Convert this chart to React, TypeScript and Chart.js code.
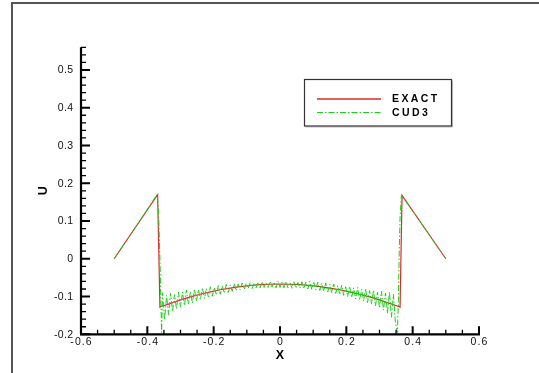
import React, { useEffect, useRef } from "react";
import { Chart, registerables } from "chart.js";

Chart.register(...registerables);

const X_MIN = -0.6;
const X_MAX = 0.6;
const Y_MIN = -0.2;
const Y_MAX = 0.56;

const xMajorTicks = [-0.6, -0.4, -0.2, 0, 0.2, 0.4, 0.6];
const xTickLabels = ["-0.6", "-0.4", "-0.2", "0", "0.2", "0.4", "0.6"];
const xMinorTicks = [-0.55, -0.5, -0.45, -0.35, -0.3, -0.25, -0.15, -0.1, -0.05, 0.05, 0.1, 0.15, 0.25, 0.3, 0.35, 0.45, 0.5, 0.55];

const yMajorTicks = [-0.2, -0.1, 0, 0.1, 0.2, 0.3, 0.4, 0.5];
const yTickLabels = ["-0.2", "-0.1", "0", "0.1", "0.2", "0.3", "0.4", "0.5"];
const yMinorTicks = [-0.18, -0.16, -0.14, -0.12, -0.08, -0.06, -0.04, -0.02, 0.02, 0.04, 0.06, 0.08, 0.12, 0.14, 0.16, 0.18, 0.22, 0.24, 0.26, 0.28, 0.32, 0.34, 0.36, 0.38, 0.42, 0.44, 0.46, 0.48, 0.52, 0.54, 0.56];

const xTitle = "X";
const yTitle = "U";
const seriesNames = ["EXACT", "CUD3"];

const exactX = [-0.5, -0.369, -0.362, -0.36, -0.33, -0.3, -0.27, -0.24, -0.21, -0.18, -0.15, -0.12, -0.09, -0.06, -0.03, 0, 0.03, 0.06, 0.09, 0.12, 0.15, 0.18, 0.21, 0.24, 0.27, 0.3, 0.33, 0.36, 0.362, 0.368, 0.5];
const exactU = [0, 0.17, -0.128, -0.127, -0.118, -0.109, -0.101, -0.094, -0.0875, -0.082, -0.0775, -0.0737, -0.0708, -0.0687, -0.0674, -0.067, -0.0674, -0.0687, -0.0708, -0.0737, -0.0775, -0.082, -0.0875, -0.094, -0.101, -0.109, -0.118, -0.127, -0.128, 0.168, 0];

const cud3X = [
  -0.5, -0.45, -0.4, -0.37, -0.366, -0.362, -0.359, -0.357,
  -0.354, -0.348, -0.342, -0.336, -0.33, -0.324, -0.318, -0.312, -0.306, -0.3,
  -0.294, -0.288, -0.282, -0.276, -0.27, -0.264, -0.258, -0.252, -0.246, -0.24,
  -0.234, -0.228, -0.222, -0.216, -0.21, -0.204, -0.198, -0.192, -0.186, -0.18,
  -0.174, -0.168, -0.162, -0.156, -0.15, -0.144, -0.138, -0.132, -0.126, -0.12,
  -0.114, -0.108, -0.102, -0.096, -0.09, -0.084, -0.078, -0.072, -0.066, -0.06,
  -0.054, -0.048, -0.042, -0.036, -0.03, -0.024, -0.018, -0.012, -0.006, 0,
  0.006, 0.012, 0.018, 0.024, 0.03, 0.036, 0.042, 0.048, 0.054, 0.06,
  0.066, 0.072, 0.078, 0.084, 0.09, 0.096, 0.102, 0.108, 0.114, 0.12,
  0.126, 0.132, 0.138, 0.144, 0.15, 0.156, 0.162, 0.168, 0.174, 0.18,
  0.186, 0.192, 0.198, 0.204, 0.21, 0.216, 0.222, 0.228, 0.234, 0.24,
  0.246, 0.252, 0.258, 0.264, 0.27, 0.276, 0.282, 0.288, 0.294, 0.3,
  0.306, 0.312, 0.318, 0.324, 0.33, 0.336, 0.342, 0.348,
  0.354, 0.357, 0.359, 0.362, 0.366, 0.4, 0.45, 0.5,
];
const cud3U = [
  0, 0.065, 0.131, 0.171, 0.12, 0.0, -0.12, -0.195,
  -0.09, -0.162, -0.097, -0.148, -0.091, -0.14, -0.095, -0.133, -0.089, -0.128,
  -0.088, -0.124, -0.083, -0.12, -0.086, -0.117, -0.08, -0.112, -0.082, -0.108,
  -0.077, -0.105, -0.079, -0.101, -0.074, -0.099, -0.076, -0.096, -0.071, -0.094,
  -0.072, -0.091, -0.068, -0.089, -0.07, -0.086, -0.066, -0.085, -0.067, -0.082,
  -0.064, -0.081, -0.066, -0.079, -0.063, -0.079, -0.064, -0.077, -0.062, -0.077,
  -0.061, -0.076, -0.063, -0.076, -0.06, -0.075, -0.062, -0.077, -0.06, -0.076,
  -0.062, -0.077, -0.06, -0.077, -0.063, -0.078, -0.061, -0.078, -0.063, -0.078,
  -0.061, -0.079, -0.062, -0.08, -0.06, -0.081, -0.063, -0.082, -0.062, -0.084,
  -0.065, -0.086, -0.064, -0.088, -0.068, -0.09, -0.067, -0.092, -0.071, -0.095,
  -0.07, -0.097, -0.074, -0.1, -0.073, -0.103, -0.077, -0.106, -0.076, -0.109,
  -0.081, -0.112, -0.079, -0.116, -0.084, -0.12, -0.083, -0.125, -0.088, -0.13,
  -0.086, -0.136, -0.091, -0.144, -0.088, -0.155, -0.094, -0.17,
  -0.195, -0.11, 0.0, 0.11, 0.168, 0.127, 0.064, 0,
];

const EXACT_COLOR = "#dc2a2a";
const CUD3_COLOR = "#18d218";
const CUD3_DASH = [6, 2, 1.5, 2];
const FONT = "'Liberation Sans', Arial, sans-serif";

function drawSpaced(ctx: CanvasRenderingContext2D, text: string, x: number, y: number, spacing: number, align: "left" | "center" | "right") {
  let total = 0;
  const widths = Array.from(text).map((c) => ctx.measureText(c).width);
  widths.forEach((w) => (total += w));
  total += spacing * (widths.length - 1);
  let start = x;
  if (align === "center") start = x - total / 2;
  if (align === "right") start = x - total;
  ctx.textAlign = "left";
  let cx = start;
  Array.from(text).forEach((c, i) => {
    ctx.fillText(c, cx, y);
    cx += widths[i] + spacing;
  });
}

const axesPlugin = {
  id: "tecplotAxes",
  afterDraw(chart: any) {
    const ctx: CanvasRenderingContext2D = chart.ctx;
    const xs = chart.scales.x;
    const ys = chart.scales.y;
    const left = xs.getPixelForValue(X_MIN);
    const right = xs.getPixelForValue(X_MAX);
    const bottom = ys.getPixelForValue(Y_MIN);
    const top = ys.getPixelForValue(Y_MAX);
    ctx.save();
    ctx.strokeStyle = "#000";
    ctx.lineCap = "butt";

    ctx.lineWidth = 2.2;
    ctx.beginPath();
    ctx.moveTo(left, top);
    ctx.lineTo(left, bottom);
    ctx.moveTo(left - 1, bottom);
    ctx.lineTo(right + 1, bottom);
    ctx.stroke();

    ctx.lineWidth = 2;
    ctx.beginPath();
    xMajorTicks.forEach((v) => {
      const px = xs.getPixelForValue(v);
      ctx.moveTo(px, bottom);
      ctx.lineTo(px, bottom - 8);
    });
    ctx.stroke();
    ctx.lineWidth = 1.3;
    ctx.beginPath();
    xMinorTicks.forEach((v) => {
      const px = xs.getPixelForValue(v);
      ctx.moveTo(px, bottom);
      ctx.lineTo(px, bottom - 4.5);
    });
    ctx.stroke();

    ctx.lineWidth = 2;
    ctx.beginPath();
    yMajorTicks.forEach((v) => {
      const py = ys.getPixelForValue(v);
      ctx.moveTo(left, py);
      ctx.lineTo(left + 9, py);
    });
    ctx.stroke();
    ctx.lineWidth = 1.3;
    ctx.beginPath();
    yMinorTicks.forEach((v) => {
      const py = ys.getPixelForValue(v);
      ctx.moveTo(left, py);
      ctx.lineTo(left + 5, py);
    });
    ctx.stroke();

    ctx.fillStyle = "#111";
    ctx.font = `10.5px ${FONT}`;
    ctx.textBaseline = "middle";
    xMajorTicks.forEach((v, i) => {
      drawSpaced(ctx, xTickLabels[i], xs.getPixelForValue(v), bottom + 8, 1.1, "center");
    });
    yMajorTicks.forEach((v, i) => {
      drawSpaced(ctx, yTickLabels[i], left - 8, ys.getPixelForValue(v) + 0.5, 0.3, "right");
    });

    ctx.fillStyle = "#000";
    ctx.font = `bold 12.5px ${FONT}`;
    ctx.textAlign = "center";
    ctx.fillText(xTitle, xs.getPixelForValue(0), bottom + 21);
    ctx.save();
    ctx.translate(44, ys.getPixelForValue(0.18));
    ctx.rotate(-Math.PI / 2);
    ctx.fillText(yTitle, 0, 0);
    ctx.restore();

    const lx = 304.5, ly = 79.5, lw = 147, lh = 46.5;
    ctx.fillStyle = "#fff";
    ctx.fillRect(lx, ly, lw, lh);
    ctx.strokeStyle = "#333";
    ctx.lineWidth = 1.2;
    ctx.strokeRect(lx, ly, lw, lh);
    ctx.strokeStyle = "rgba(0,0,0,0.25)";
    ctx.lineWidth = 1;
    ctx.beginPath();
    ctx.moveTo(lx + 1, ly + lh + 1);
    ctx.lineTo(lx + lw + 1, ly + lh + 1);
    ctx.lineTo(lx + lw + 1, ly + 1);
    ctx.stroke();

    const rows = [99, 112.5];
    const colors = [EXACT_COLOR, CUD3_COLOR];
    const dashes = [[], CUD3_DASH];
    rows.forEach((ry, i) => {
      ctx.strokeStyle = colors[i];
      ctx.lineWidth = i === 0 ? 1.4 : 1.2;
      ctx.setLineDash(dashes[i] as number[]);
      ctx.beginPath();
      ctx.moveTo(317, ry);
      ctx.lineTo(381, ry);
      ctx.stroke();
      ctx.setLineDash([]);
      ctx.fillStyle = "#000";
      ctx.font = `bold 10.5px ${FONT}`;
      ctx.textBaseline = "middle";
      drawSpaced(ctx, seriesNames[i], 392, ry + 0.5, 2.4, "left");
    });
    ctx.restore();
  },
};

export default function App() {
  const ref = useRef<HTMLCanvasElement | null>(null);

  useEffect(() => {
    document.body.style.margin = "0";
    const canvas = ref.current;
    if (!canvas) return;
    const chart = new Chart(canvas, {
      type: "scatter",
      data: {
        datasets: [
          {
            label: seriesNames[1],
            data: cud3X.map((x, i) => ({ x, y: cud3U[i] })),
            showLine: true,
            borderColor: CUD3_COLOR,
            borderWidth: 1,
            borderDash: CUD3_DASH,
            pointRadius: 0,
            fill: false,
            tension: 0,
          },
          {
            label: seriesNames[0],
            data: exactX.map((x, i) => ({ x, y: exactU[i] })),
            showLine: true,
            borderColor: EXACT_COLOR,
            borderWidth: 1.2,
            pointRadius: 0,
            fill: false,
            tension: 0,
          },
        ],
      },
      options: {
        animation: false,
        responsive: false,
        maintainAspectRatio: false,
        events: [],
        layout: { padding: { left: 81, right: 60, top: 47.3, bottom: 38.7 } },
        scales: {
          x: { type: "linear", min: X_MIN, max: X_MAX, display: false },
          y: { type: "linear", min: Y_MIN, max: Y_MAX, display: false },
        },
        plugins: { legend: { display: false }, tooltip: { enabled: false } },
      },
      plugins: [axesPlugin],
    } as any);
    return () => chart.destroy();
  }, []);

  return (
    <div style={{ position: "fixed", left: 0, top: 0, width: 539, height: 373, background: "#fff", overflow: "hidden" }}>
      <div
        style={{
          position: "absolute",
          left: 11,
          top: 2,
          width: 539,
          height: 380,
          borderTop: "2px solid #555",
          borderLeft: "2px solid #555",
          boxSizing: "border-box",
        }}
      />
      <canvas ref={ref} width={539} height={373} style={{ position: "absolute", left: 0, top: 0, width: 539, height: 373 }} />
    </div>
  );
}
